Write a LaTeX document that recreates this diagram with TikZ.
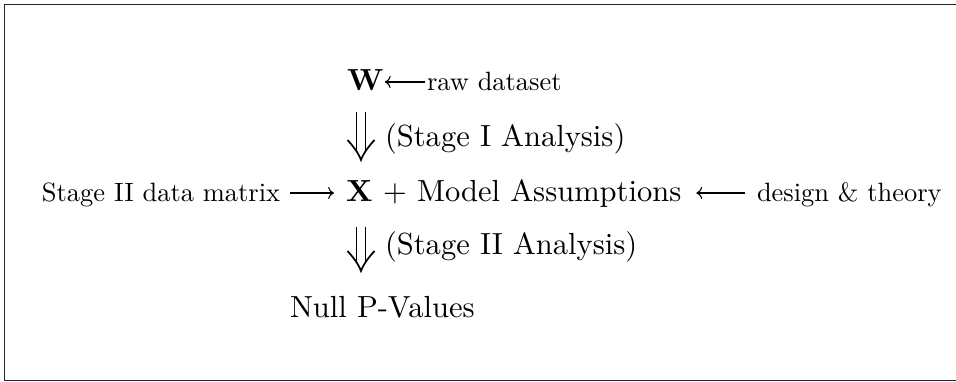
\documentclass[tikz,border=0pt]{standalone}
\usetikzlibrary{arrows.meta,calc}
\tikzset{
  big/.style={inner sep=0pt, outer sep=0pt, anchor=base west, font=\fontsize{10}{12}\selectfont, scale=1.42},
  sml/.style={inner sep=0pt, outer sep=0pt, anchor=base west, font=\fontsize{10}{12}\selectfont, scale=1.23},
  lar/.style={line width=0.5pt, -{Computer Modern Rightarrow}},
  dbl/.style={line width=0.8pt},
  frame/.style={line width=0.8pt, draw=black!85}
}
\newcommand\dbldown[2]{%
  \draw[dbl] ($(#1)+(-4.5,0)$) -- ($(#2)+(-4.5,-10)$);
  \draw[dbl] ($(#1)+(4.5,0)$) -- ($(#2)+(4.5,-10)$);
  \draw[dbl] ($(#2)+(-13.5,-20)$) .. controls ($(#2)+(-8,-14)$) and ($(#2)+(-2.5,-7)$) .. (#2)
             .. controls ($(#2)+(2.5,-7)$) and ($(#2)+(8,-14)$) .. ($(#2)+(13.5,-20)$);
}
\begin{document}
\begin{tikzpicture}[x=0.465pt,y=-0.465pt]
\useasboundingbox (0,0) rectangle (956,382);
\draw[frame] (957,4.5) -- (4.5,4.5) -- (4.5,380.5) -- (957,380.5);

\coordinate (a1) at (0,82);
\coordinate (a2) at (0,193);

% row 1
\node[big] (W) at (347,91) {$\mathbf{W}$};
\node[sml] (raw) at (427,91) {raw dataset};
\draw[lar] ($(raw.west |- a1)+(-2,0)$) -- ($(W.east |- a1)+(1,0)$);

% arrow 1
\coordinate (d1t) at (361,112);
\coordinate (d1b) at (361,160);
\dbldown{d1t}{d1b}
\node[big] (st1) at (385,147) {(Stage I Analysis)};

% row 2
\node[sml] (s2) at (42,202) {Stage II data matrix};
\node[big] (X) at (346,202) {$\mathbf{X}$};
\node[big] (plus) at (383,202) {$+$};
\node[big] (MA) at (417,202) {Model Assumptions};
\node[sml] (dt) at (757,202) {design \& theory};
\draw[lar] ($(s2.east |- a2)+(10,0)$) -- ($(X.west |- a2)+(-12,0)$);
\draw[lar] ($(dt.west |- a2)+(-12,0)$) -- ($(MA.east |- a2)+(15,0)$);

% arrow 2
\coordinate (d2t) at (361,227);
\coordinate (d2b) at (361,271);
\dbldown{d2t}{d2b}
\node[big] (st2) at (385,255) {(Stage II Analysis)};

% row 3
\node[big] (nul) at (290,318) {Null P-Values};
\end{tikzpicture}
\end{document}
